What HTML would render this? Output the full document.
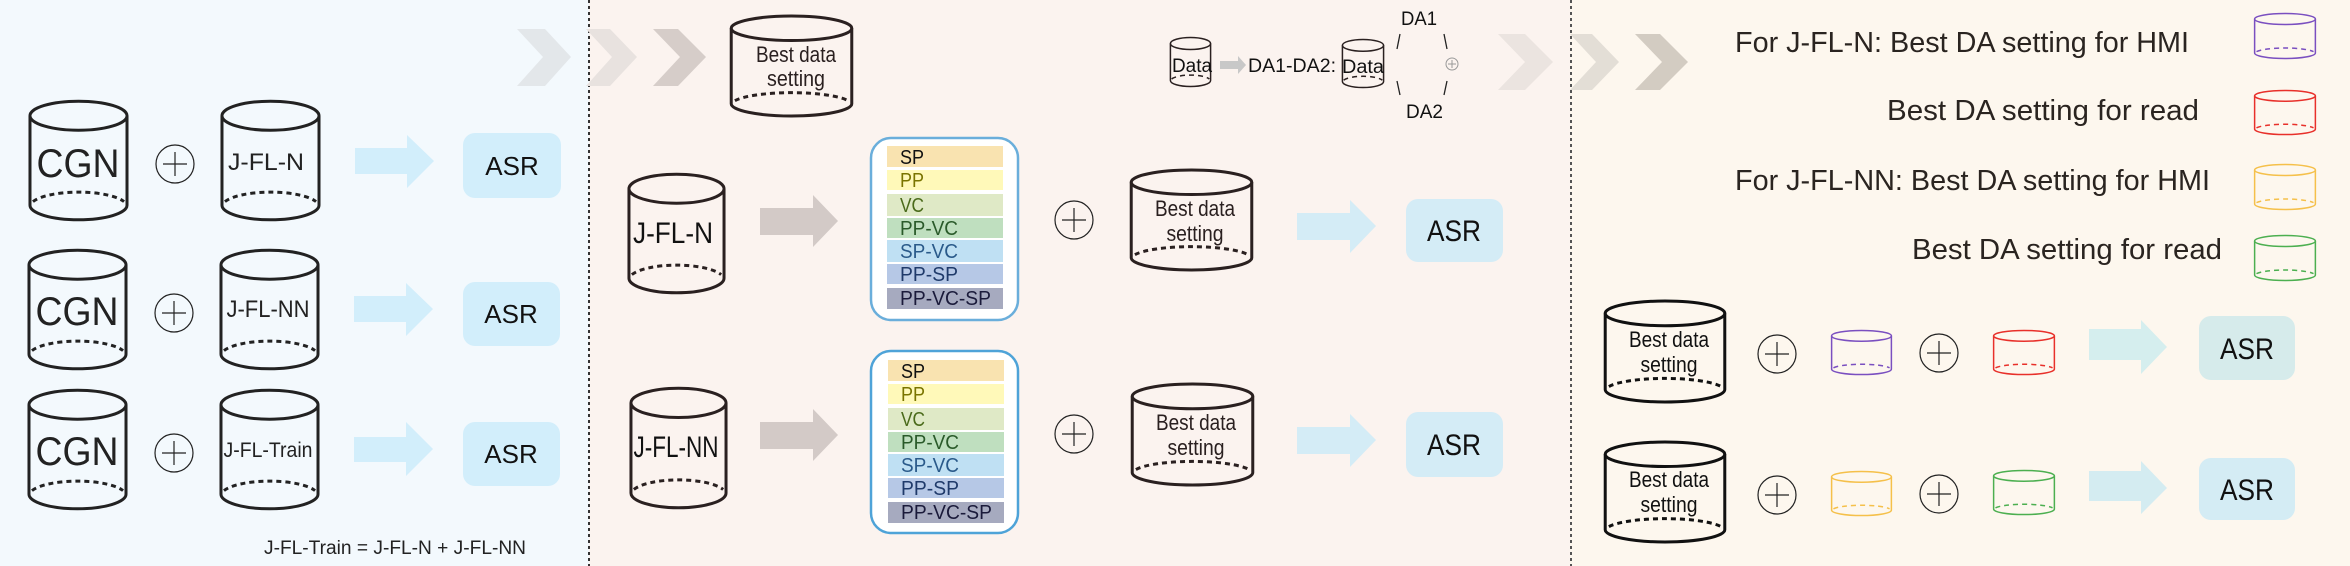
<!DOCTYPE html>
<html><head><meta charset="utf-8"><style>
html,body{margin:0;padding:0;}
svg{display:block;font-family:"Liberation Sans",Arial,sans-serif;}
</style></head><body>
<svg width="2350" height="566" viewBox="0 0 2350 566" xmlns="http://www.w3.org/2000/svg">
<defs>
<symbol id="cyl" viewBox="0 0 100 100" preserveAspectRatio="none" overflow="visible">
<path d="M1,13 V87 A49,12 0 0 0 99,87 V13" fill="none" stroke="currentColor" vector-effect="non-scaling-stroke"/>
<ellipse cx="50" cy="13" rx="49" ry="12" fill="none" stroke="currentColor" vector-effect="non-scaling-stroke"/>
<path d="M4,84 A49,12 0 0 1 96,84" fill="none" stroke="currentColor" stroke-dasharray="5 4" vector-effect="non-scaling-stroke"/>
</symbol>
</defs>
<rect x="0" y="0" width="589" height="566" fill="#f3f9fd"/>
<rect x="589" y="0" width="981" height="566" fill="#fbf3ef"/>
<rect x="1570" y="0" width="780" height="566" fill="#fdf7ee"/>
<line x1="589" y1="0" x2="589" y2="566" stroke="#333" stroke-width="2" stroke-dasharray="3 3"/>
<line x1="1571" y1="0" x2="1571" y2="566" stroke="#555" stroke-width="2" stroke-dasharray="3 3"/>

<polygon points="517,29 545,29 571,57 545,86 517,86 543,57" fill="#e3e7ea"/>
<polygon points="586,29 610,29 637,57 610,86 586,86 612,57" fill="#e8e2df"/>
<polygon points="653,29 678,29 706,57 678,86 653,86 680,57" fill="#d6cdc9"/>
<polygon points="1498,34 1525,34 1553,62 1525,90 1498,90 1525,62" fill="#ebe4e0"/>
<polygon points="1570,34 1592,34 1619,62 1592,90 1570,90 1596,62" fill="#e3ded6"/>
<polygon points="1635,34 1660,34 1688,62 1660,90 1635,90 1662,62" fill="#d3ccc2"/>

<!-- PANEL 1 -->
<g color="#222">
<use href="#cyl" x="29" y="100" width="99" height="121" style="stroke-width:3"/>
<use href="#cyl" x="221" y="100" width="99" height="121" style="stroke-width:3"/>
<use href="#cyl" x="28" y="249" width="99" height="121" style="stroke-width:3"/>
<use href="#cyl" x="220" y="249" width="99" height="121" style="stroke-width:3"/>
<use href="#cyl" x="28" y="389" width="99" height="121" style="stroke-width:3"/>
<use href="#cyl" x="220" y="389" width="99" height="121" style="stroke-width:3"/>
</g>
<g font-size="40" fill="#222" text-anchor="middle">
<text x="78" y="177" textLength="83" lengthAdjust="spacingAndGlyphs">CGN</text>
<text x="77" y="325" textLength="83" lengthAdjust="spacingAndGlyphs">CGN</text>
<text x="77" y="465" textLength="83" lengthAdjust="spacingAndGlyphs">CGN</text>
</g>
<g font-size="24" fill="#222" text-anchor="middle">
<text x="266" y="170" textLength="76" lengthAdjust="spacingAndGlyphs">J-FL-N</text>
<text x="268" y="317" textLength="83" lengthAdjust="spacingAndGlyphs">J-FL-NN</text>
<text x="268" y="457" font-size="21" textLength="89" lengthAdjust="spacingAndGlyphs">J-FL-Train</text>
</g>
<g fill="none" stroke="#222" stroke-width="1.2">
<circle cx="175" cy="164" r="19"/><path d="M163,164h24M175,152v24"/>
<circle cx="174" cy="313" r="19"/><path d="M162,313h24M174,301v24"/>
<circle cx="174" cy="453" r="19"/><path d="M162,453h24M174,441v24"/>
</g>
<g fill="#d2eefb">
<polygon points="355,148 407,148 407,135 434,161 407,188 407,174 355,174"/>
<polygon points="354,296 406,296 406,283 433,309 406,336 406,322 354,322"/>
<polygon points="354,437 406,437 406,422 433,449 406,476 406,462 354,462"/>
<rect x="463" y="133" width="98" height="65" rx="12"/>
<rect x="463" y="282" width="97" height="64" rx="12"/>
<rect x="463" y="422" width="97" height="64" rx="12"/>
</g>
<g font-size="26" fill="#111" text-anchor="middle">
<text x="512" y="175">ASR</text><text x="511" y="323">ASR</text><text x="511" y="463">ASR</text>
</g>
<text x="264" y="554" font-size="19" fill="#222" textLength="262" lengthAdjust="spacingAndGlyphs">J-FL-Train = J-FL-N + J-FL-NN</text>

<!-- PANEL 2 -->
<g color="#2a2020">
<use href="#cyl" x="730" y="15" width="123" height="102" style="stroke-width:3"/>
<use href="#cyl" x="628" y="173" width="97" height="121" style="stroke-width:3"/>
<use href="#cyl" x="630" y="387" width="97" height="122" style="stroke-width:3"/>
<use href="#cyl" x="1130" y="169" width="123" height="102" style="stroke-width:3"/>
<use href="#cyl" x="1131" y="383" width="123" height="103" style="stroke-width:3"/>
<use href="#cyl" x="1170" y="37" width="41" height="50" style="stroke-width:1.5"/>
<use href="#cyl" x="1342" y="39" width="42" height="49" style="stroke-width:1.5"/>
</g>
<g font-size="22" fill="#2a2020" text-anchor="middle">
<text x="796" y="62" textLength="80" lengthAdjust="spacingAndGlyphs">Best data</text>
<text x="796" y="86" textLength="58" lengthAdjust="spacingAndGlyphs">setting</text>
<text x="1195" y="216" textLength="80" lengthAdjust="spacingAndGlyphs">Best data</text>
<text x="1195" y="241" textLength="57" lengthAdjust="spacingAndGlyphs">setting</text>
<text x="1196" y="430" textLength="80" lengthAdjust="spacingAndGlyphs">Best data</text>
<text x="1196" y="455" textLength="57" lengthAdjust="spacingAndGlyphs">setting</text>
</g>
<g font-size="30" fill="#111" text-anchor="middle">
<text x="673" y="243" textLength="80" lengthAdjust="spacingAndGlyphs">J-FL-N</text>
<text x="676" y="457" textLength="85" lengthAdjust="spacingAndGlyphs">J-FL-NN</text>
</g>
<g font-size="19" fill="#111">
<text x="1172" y="72" textLength="40" lengthAdjust="spacingAndGlyphs">Data</text>
<text x="1248" y="72" textLength="88" lengthAdjust="spacingAndGlyphs">DA1-DA2:</text>
<text x="1342" y="73" textLength="42" lengthAdjust="spacingAndGlyphs">Data</text>
<text x="1401" y="25" textLength="36" lengthAdjust="spacingAndGlyphs">DA1</text>
<text x="1406" y="118" textLength="37" lengthAdjust="spacingAndGlyphs">DA2</text>
</g>
<polygon points="1220,61 1238,61 1238,56 1246,65 1238,74 1238,69 1220,69" fill="#c8c8c8"/>
<g stroke="#222" stroke-width="1.3" fill="none">
<path d="M1400,34 L1397,49 M1444,34 L1447,49 M1397,81 L1400,95 M1447,81 L1444,95"/>
</g>
<circle cx="1452" cy="64" r="6" fill="none" stroke="#999" stroke-width="1"/>
<path d="M1448,64h8M1452,60v8" stroke="#999" stroke-width="1"/>
<g fill="#d3cac7">
<polygon points="760,208 813,208 813,195 838,221 813,247 813,235 760,235"/>
<polygon points="760,422 813,422 813,409 838,435 813,461 813,449 760,449"/>
</g>
<g fill="#d4ecf6">
<polygon points="1297,213 1350,213 1350,200 1376,226 1350,253 1350,240 1297,240"/>
<polygon points="1297,427 1350,427 1350,414 1376,440 1350,467 1350,454 1297,454"/>
<rect x="1406" y="199" width="97" height="63" rx="12"/>
<rect x="1406" y="412" width="97" height="65" rx="12"/>
</g>
<g font-size="30" fill="#111" text-anchor="middle">
<text x="1454" y="241" textLength="54" lengthAdjust="spacingAndGlyphs">ASR</text>
<text x="1454" y="455" textLength="54" lengthAdjust="spacingAndGlyphs">ASR</text>
</g>
<g fill="none" stroke="#222" stroke-width="1.2">
<circle cx="1074" cy="220" r="19"/><path d="M1062,220h24M1074,208v24"/>
<circle cx="1074" cy="434" r="19"/><path d="M1062,434h24M1074,422v24"/>
</g>
<g>
<rect x="871" y="138" width="147" height="182" rx="20" fill="#fff" stroke="#6aaedb" stroke-width="2.5"/>
<rect x="887" y="146" width="116" height="21" fill="#f9e3b0"/>
<rect x="887" y="170" width="116" height="20" fill="#fff9b9"/>
<rect x="887" y="194" width="116" height="22" fill="#dfe9c6"/>
<rect x="887" y="218" width="116" height="20" fill="#bfdfbf"/>
<rect x="887" y="240" width="116" height="22" fill="#bfe0f3"/>
<rect x="887" y="264" width="116" height="20" fill="#b6c8e6"/>
<rect x="887" y="288" width="116" height="21" fill="#a6aabf"/>
<rect x="871" y="351" width="147" height="182" rx="20" fill="#fff" stroke="#4ea3d8" stroke-width="2.5"/>
<rect x="888" y="360" width="116" height="21" fill="#f9e3b0"/>
<rect x="888" y="384" width="116" height="20" fill="#fff9b9"/>
<rect x="888" y="408" width="116" height="22" fill="#dfe9c6"/>
<rect x="888" y="432" width="116" height="20" fill="#bfdfbf"/>
<rect x="888" y="454" width="116" height="22" fill="#bfe0f3"/>
<rect x="888" y="478" width="116" height="20" fill="#b6c8e6"/>
<rect x="888" y="502" width="116" height="21" fill="#a6aabf"/>
</g>
<g font-size="20" lengthAdjust="spacingAndGlyphs">
<text x="900" y="164" fill="#111" textLength="24" lengthAdjust="spacingAndGlyphs">SP</text>
<text x="900" y="187" fill="#7a7400" textLength="24" lengthAdjust="spacingAndGlyphs">PP</text>
<text x="900" y="212" fill="#4a6a1a" textLength="24" lengthAdjust="spacingAndGlyphs">VC</text>
<text x="900" y="235" fill="#2a5a2a" textLength="58" lengthAdjust="spacingAndGlyphs">PP-VC</text>
<text x="900" y="258" fill="#2a5a8a" textLength="58" lengthAdjust="spacingAndGlyphs">SP-VC</text>
<text x="900" y="281" fill="#1f3a6a" textLength="58" lengthAdjust="spacingAndGlyphs">PP-SP</text>
<text x="900" y="305" fill="#1a1a3a" textLength="91" lengthAdjust="spacingAndGlyphs">PP-VC-SP</text>
<text x="901" y="378" fill="#111" textLength="24" lengthAdjust="spacingAndGlyphs">SP</text>
<text x="901" y="401" fill="#7a7400" textLength="24" lengthAdjust="spacingAndGlyphs">PP</text>
<text x="901" y="426" fill="#4a6a1a" textLength="24" lengthAdjust="spacingAndGlyphs">VC</text>
<text x="901" y="449" fill="#2a5a2a" textLength="58" lengthAdjust="spacingAndGlyphs">PP-VC</text>
<text x="901" y="472" fill="#2a5a8a" textLength="58" lengthAdjust="spacingAndGlyphs">SP-VC</text>
<text x="901" y="495" fill="#1f3a6a" textLength="58" lengthAdjust="spacingAndGlyphs">PP-SP</text>
<text x="901" y="519" fill="#1a1a3a" textLength="91" lengthAdjust="spacingAndGlyphs">PP-VC-SP</text>
</g>

<!-- PANEL 3 -->
<g font-size="29" fill="#2a2420">
<text x="1735" y="52" textLength="454" lengthAdjust="spacingAndGlyphs">For J-FL-N: Best DA setting for HMI</text>
<text x="1887" y="120" textLength="312" lengthAdjust="spacingAndGlyphs">Best  DA setting for read</text>
<text x="1735" y="190" textLength="475" lengthAdjust="spacingAndGlyphs">For J-FL-NN: Best DA setting for HMI</text>
<text x="1912" y="259" textLength="310" lengthAdjust="spacingAndGlyphs">Best  DA setting for read</text>
</g>
<use href="#cyl" x="2254" y="13" width="62" height="46" color="#7a4fc0" style="stroke-width:1.5"/>
<use href="#cyl" x="2254" y="90" width="62" height="45" color="#e8302a" style="stroke-width:1.5"/>
<use href="#cyl" x="2254" y="164" width="62" height="46" color="#f5c04a" style="stroke-width:1.5"/>
<use href="#cyl" x="2254" y="235" width="62" height="46" color="#4caf50" style="stroke-width:1.5"/>
<use href="#cyl" x="1604" y="300" width="122" height="103" color="#111" style="stroke-width:3"/>
<use href="#cyl" x="1604" y="441" width="122" height="102" color="#111" style="stroke-width:3"/>
<use href="#cyl" x="1831" y="330" width="61" height="45" color="#7a4fc0" style="stroke-width:1.5"/>
<use href="#cyl" x="1993" y="330" width="62" height="45" color="#e8302a" style="stroke-width:1.5"/>
<use href="#cyl" x="1831" y="471" width="61" height="45" color="#f5c04a" style="stroke-width:1.5"/>
<use href="#cyl" x="1993" y="470" width="62" height="45" color="#4caf50" style="stroke-width:1.5"/>
<g font-size="22" fill="#111" text-anchor="middle">
<text x="1669" y="347" textLength="80" lengthAdjust="spacingAndGlyphs">Best data</text>
<text x="1669" y="372" textLength="57" lengthAdjust="spacingAndGlyphs">setting</text>
<text x="1669" y="487" textLength="80" lengthAdjust="spacingAndGlyphs">Best data</text>
<text x="1669" y="512" textLength="57" lengthAdjust="spacingAndGlyphs">setting</text>
</g>
<g fill="none" stroke="#222" stroke-width="1.2">
<circle cx="1777" cy="354" r="19"/><path d="M1765,354h24M1777,342v24"/>
<circle cx="1939" cy="353" r="19"/><path d="M1927,353h24M1939,341v24"/>
<circle cx="1777" cy="495" r="19"/><path d="M1765,495h24M1777,483v24"/>
<circle cx="1939" cy="494" r="19"/><path d="M1927,494h24M1939,482v24"/>
</g>
<polygon points="2089,329 2141,329 2141,320 2167,347 2141,374 2141,360 2089,360" fill="#d5eeee"/>
<polygon points="2089,471 2141,471 2141,461 2167,488 2141,514 2141,501 2089,501" fill="#d4ecf1"/>
<rect x="2199" y="316" width="96" height="64" rx="12" fill="#d6ebeb"/>
<rect x="2199" y="458" width="96" height="62" rx="12" fill="#d4ecf4"/>
<g font-size="30" fill="#111" text-anchor="middle">
<text x="2247" y="359" textLength="54" lengthAdjust="spacingAndGlyphs">ASR</text>
<text x="2247" y="500" textLength="54" lengthAdjust="spacingAndGlyphs">ASR</text>
</g>
</svg>
</body></html>
